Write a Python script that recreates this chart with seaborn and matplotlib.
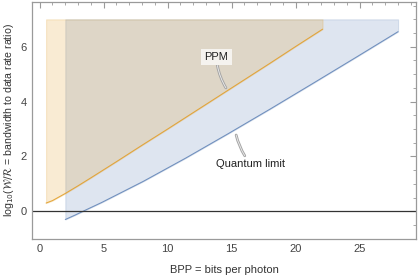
import numpy as np
import pandas as pd
import matplotlib
matplotlib.use("Agg")
import matplotlib.pyplot as plt
import matplotlib.patheffects as pe
import seaborn as sns
from matplotlib.ticker import MultipleLocator

# values
ppm_bpp = [0.5, 1.0, 2.0, 3.0, 4.0, 6.0, 8.0, 10.0, 12.0, 14.0, 16.0, 18.0, 20.0, 22.1]
ppm_ratio = [0.30, 0.39, 0.65, 0.93, 1.22, 1.81, 2.41, 3.00, 3.60, 4.20, 4.80, 5.40, 6.01, 6.64]
ql_bpp = [2.0, 2.76, 3.61, 4.84, 8.09, 11.41, 14.73, 18.05, 21.37, 24.70, 28.0]
ql_ratio = [-0.30, -0.14, 0.05, 0.32, 1.09, 1.94, 2.83, 3.74, 4.67, 5.61, 6.55]
fill_top = 7.0

blue = "#5E81B5"
orange = "#E19C24"
frame = "#9a9a9a"

sns.set_theme(style="white")
plt.rcParams["font.family"] = ["Liberation Sans", "DejaVu Sans"]
plt.rcParams["mathtext.fontset"] = "dejavusans"

df = pd.concat([
    pd.DataFrame({"bpp": ql_bpp, "ratio": ql_ratio, "curve": "Quantum limit"}),
    pd.DataFrame({"bpp": ppm_bpp, "ratio": ppm_ratio, "curve": "PPM"}),
])

fig = plt.figure(figsize=(4.19, 2.78), dpi=100)
ax = fig.add_axes([0.0764, 0.1414, 0.9164, 0.8532])

ax.fill_between(ql_bpp, ql_ratio, fill_top, facecolor=blue, alpha=0.2,
                edgecolor=(0.37, 0.51, 0.71, 0.25), lw=0.8)
ax.fill_between(ppm_bpp, ppm_ratio, fill_top, facecolor=orange, alpha=0.2,
                edgecolor=(0.88, 0.61, 0.14, 0.25), lw=0.8)
sns.lineplot(data=df, x="bpp", y="ratio", hue="curve", palette=[blue, orange],
             sort=False, lw=0.75, alpha=0.85, legend=False, ax=ax)
ax.axhline(0, color="#333333", lw=0.9)

ax.set_xlim(-0.6, 29.4)
ax.set_ylim(-1.0, 7.65)
ax.xaxis.set_major_locator(MultipleLocator(5))
ax.xaxis.set_minor_locator(MultipleLocator(1))
ax.yaxis.set_major_locator(MultipleLocator(2))
ax.yaxis.set_minor_locator(MultipleLocator(0.5))
ax.tick_params(which="both", direction="in", top=True, right=True, color=frame,
               labelcolor="#444444", labelsize=8, pad=4)
ax.tick_params(which="major", length=4, width=0.8)
ax.tick_params(which="minor", length=2.2, width=0.6)
ax.tick_params(axis="both", which="both", labeltop=False, labelright=False)
for s in ax.spines.values():
    s.set_color(frame)
    s.set_linewidth(0.9)

ax.set_xlabel("BPP = bits per photon", fontsize=8, color="#333333", labelpad=8)
ax.set_ylabel(r"log$_{10}$($\mathcal{W}/\mathcal{R}$ = bandwidth to data rate ratio)",
              fontsize=7.6, color="#333333", labelpad=3)

halo = [pe.Stroke(linewidth=2.0, foreground="#a5a5a5"), pe.Normal()]
lead = dict(arrowstyle="-", color="#eeeeee", lw=0.6, shrinkA=0, shrinkB=0,
            path_effects=halo)
ax.annotate("PPM", xy=(14.55, 4.5), xytext=(13.8, 5.62), fontsize=8, color="#222222",
            ha="center", va="center",
            bbox=dict(boxstyle="square,pad=0.3", fc="#f5f3ef", ec="none"),
            arrowprops=dict(connectionstyle="arc3,rad=0.12", **lead))
ax.annotate("Quantum limit", xy=(15.35, 2.78), xytext=(16.5, 1.72), fontsize=8,
            color="#222222", ha="center", va="center",
            bbox=dict(boxstyle="square,pad=0.3", fc="none", ec="none"),
            arrowprops=dict(connectionstyle="arc3,rad=-0.12", **lead))

fig.savefig("out.png", dpi=100)
